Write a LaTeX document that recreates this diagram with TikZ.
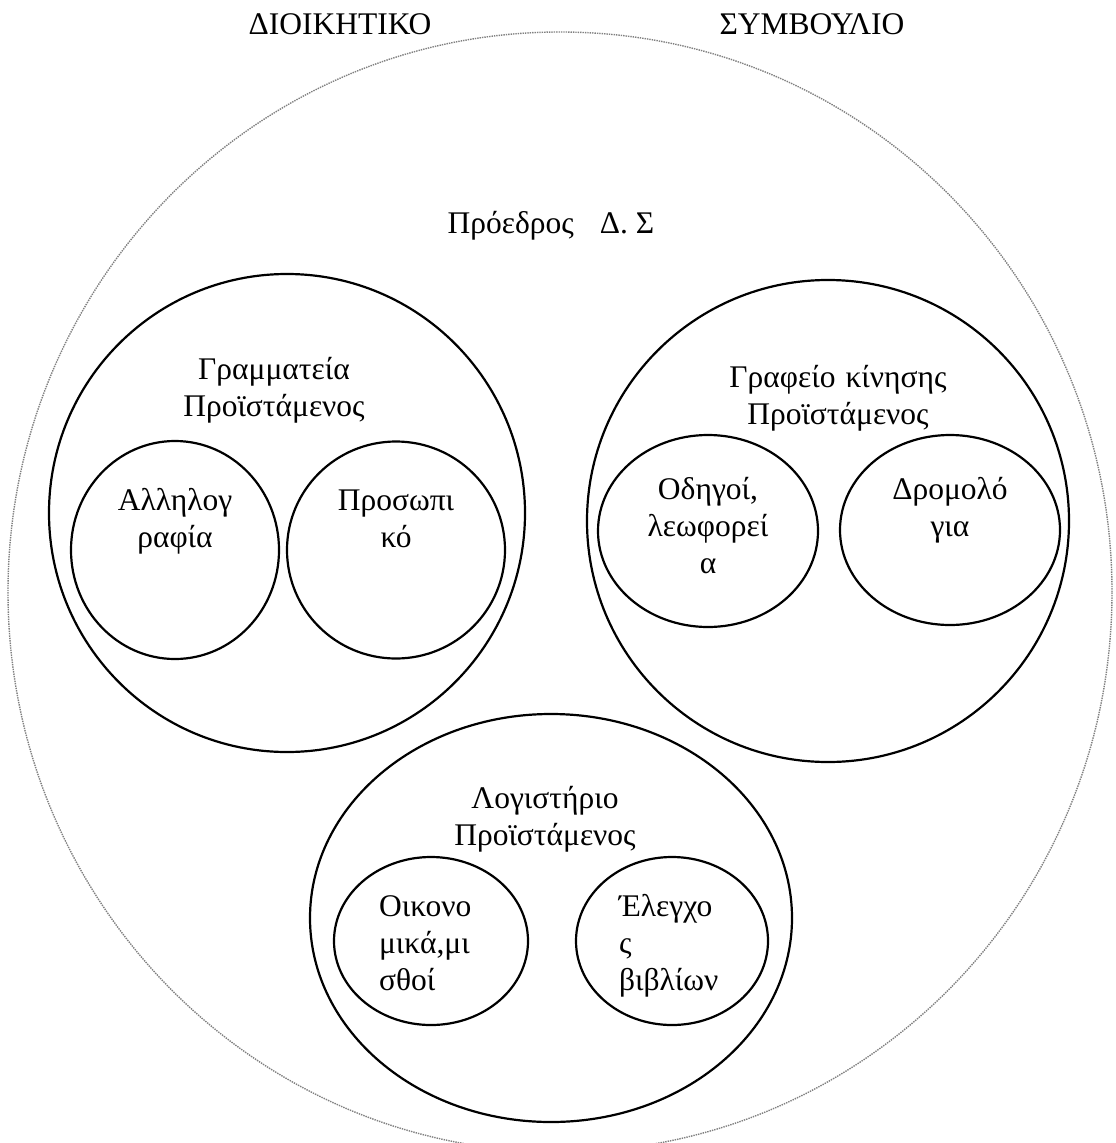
\documentclass[tikz,border=0pt]{standalone}
\usepackage{fontspec}
\setmainfont{Liberation Serif}
\usetikzlibrary{shapes.geometric,positioning}

\begin{document}
\begin{tikzpicture}[x=1pt,y=-1pt,line width=2.2pt,
                    font=\fontsize{31.5}{37}\selectfont]
  \tikzstyle{unit}=[ellipse,draw=black,inner sep=0pt]
  \tikzstyle{board}=[ellipse,draw=gray,densely dotted,line width=1.4pt,inner sep=0pt]
  \tikzstyle{lbl}=[align=center,anchor=base,inner sep=0pt]
  \tikzstyle{lbll}=[align=left,anchor=base west,inner sep=0pt]

  \useasboundingbox (0,0) rectangle (1116,1143);

  % board of directors
  \node[board, minimum width=1104pt, minimum height=1120pt] (ds) at (560,592) {};
  \node[lbl] (ttla) at (340,34) {ΔΙΟΙΚΗΤΙΚΟ};
  \node[lbl] (ttlb) at (812,34) {ΣΥΜΒΟΥΛΙΟ};
  \node[lbl] (prd) at (551,233) {Πρόεδρος\hspace{26pt}Δ. Σ};

  % secretariat (base = last line)
  \node[unit, minimum width=476pt, minimum height=478pt] (grm) at (287,513) {};
  \node[lbl] (grmt) at (274,416) {Γραμματεία\\Προϊστάμενος};
  \node[unit, minimum width=208pt, minimum height=218pt] (alg) at (175,550) {};
  \node[lbl] (algt) at (175,547) {Αλληλογ\\ραφία};
  \node[unit, minimum width=218pt, minimum height=217pt] (prs) at (396,550) {};
  \node[lbl] (prst) at (396,547) {Προσωπι\\κό};

  % traffic office
  \node[unit, minimum width=482pt, minimum height=482pt] (kin) at (828,521) {};
  \node[lbl] (kint) at (838,424) {Γραφείο\hspace{10pt}κίνησης\\Προϊστάμενος};
  \node[unit, minimum width=220pt, minimum height=192pt] (odg) at (708,531) {};
  \node[lbl] (odgt) at (708,573) {Οδηγοί,\\λεωφορεί\\α};
  \node[unit, minimum width=220pt, minimum height=190pt] (drm) at (950,530) {};
  \node[lbl] (drmt) at (950,536) {Δρομολό\\για};

  % accounting
  \node[unit, minimum width=482pt, minimum height=408pt] (lgs) at (551,918) {};
  \node[lbl] (lgst) at (545,845) {Λογιστήριο\\Προϊστάμενος};
  \node[unit, minimum width=194pt, minimum height=168pt] (oik) at (431,941) {};
  \node[lbll] (oikt) at (378,990) {Οικονο\\μικά,μι\\σθοί};
  \node[unit, minimum width=192pt, minimum height=168pt] (elg) at (672,941) {};
  \node[lbll] (elgt) at (618,990) {Έλεγχο\\ς\\βιβλίων};
\end{tikzpicture}
\end{document}
